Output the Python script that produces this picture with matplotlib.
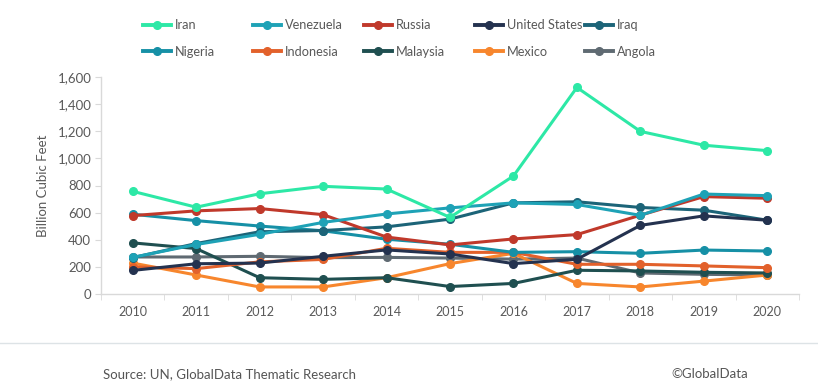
import matplotlib
matplotlib.use("Agg")
import matplotlib.pyplot as plt
from matplotlib.lines import Line2D

plt.rcParams['font.family'] = ['Lato', 'DejaVu Sans']

years = ['2010', '2011', '2012', '2013', '2014', '2015', '2016', '2017', '2018', '2019', '2020']

iran = [757, 640, 739, 794, 774, 565, 870, 1523, 1199, 1097, 1057]
venezuela = [270, 365, 440, 528, 590, 635, 672, 660, 580, 737, 725]
russia = [578, 613, 630, 585, 420, 362, 406, 438, 581, 718, 706]
united_states = [174, 223, 228, 278, 325, 295, 224, 256, 506, 576, 544]
iraq = [268, 372, 459, 468, 495, 552, 672, 680, 638, 618, 544]
nigeria = [588, 541, 501, 466, 404, 367, 307, 312, 300, 324, 317]
indonesia = [200, 187, 237, 255, 337, 307, 307, 219, 219, 207, 194]
malaysia = [377, 335, 120, 108, 120, 55, 78, 175, 170, 160, 155]
mexico = [228, 140, 52, 52, 120, 224, 300, 78, 52, 95, 140]
angola = [273, 273, 278, 268, 270, 265, 257, 265, 155, 145, 140]

countries = ['Iran', 'Venezuela', 'Russia', 'United States', 'Iraq',
             'Nigeria', 'Indonesia', 'Malaysia', 'Mexico', 'Angola']
series = [iran, venezuela, russia, united_states, iraq,
          nigeria, indonesia, malaysia, mexico, angola]
colors = ['#2de8a6', '#1ea2b6', '#c0392b', '#24324f', '#1c6478',
          '#1690a6', '#e2612b', '#1f4f50', '#f7862d', '#5f6a72']

fig = plt.figure(figsize=(8.18, 3.9), dpi=100)
ax = fig.add_axes([101 / 818, 1 - 294 / 390, 698 / 818, 217 / 390])

x = list(range(len(years)))
# draw in reverse so Iran ends up on top
for name, vals, c in reversed(list(zip(countries, series, colors))):
    ax.plot(x, vals, color=c, linewidth=2.2, marker='o', markersize=5.5,
            label=name, solid_joinstyle='round')

ax.set_xlim(-0.5, len(years) - 0.5)
ax.set_ylim(0, 1600)
ax.set_yticks(range(0, 1601, 200))
ax.set_yticklabels([f'{v:,}' for v in range(0, 1601, 200)])
ax.set_xticks(x)
ax.set_xticklabels(years)
ax.set_xticks([i - 0.5 for i in range(len(years) + 1)], minor=True)

for s in ['top', 'right']:
    ax.spines[s].set_visible(False)
for s in ['left', 'bottom']:
    ax.spines[s].set_color('#d9d9d9')
    ax.spines[s].set_linewidth(1.0)

ax.tick_params(axis='x', which='major', length=0, pad=9, labelsize=9, labelcolor='#595959')
ax.tick_params(axis='x', which='minor', length=4, color='#d9d9d9')
ax.tick_params(axis='y', length=4, color='#d9d9d9', labelsize=9.5, labelcolor='#595959', pad=3)

ax.set_ylabel('Billion Cubic Feet', fontsize=9.5, color='#595959', labelpad=6)

# legend: one small legend per column, two rows each
col_x = [143, 253, 364, 475, 585]
for i in range(5):
    handles = []
    labels = []
    for j in (i, i + 5):
        handles.append(Line2D([], [], color=colors[j], linewidth=2.8, marker='o', markersize=5.5))
        labels.append(countries[j])
    fig.legend(handles, labels, loc='upper left',
               bbox_to_anchor=(col_x[i] / 818, 1 - 19 / 390),
               frameon=False, fontsize=9.2, handlelength=2.2, handletextpad=0.3,
               labelspacing=1.15, borderaxespad=0, borderpad=0,
               labelcolor='#595959')

# footer
fig.add_artist(Line2D([0, 1], [1 - 343 / 390, 1 - 343 / 390], color='#dde3e6', linewidth=1.0))
fig.text(103 / 818, 1 - 374 / 390, 'Source: UN, GlobalData Thematic Research',
         fontsize=9.5, color='#555555', va='center', ha='left')
fig.text(748 / 818, 1 - 374 / 390, '©GlobalData', fontsize=9.5, color='#555555',
         va='center', ha='right')

fig.savefig('out.png', dpi=100)
plt.close(fig)
